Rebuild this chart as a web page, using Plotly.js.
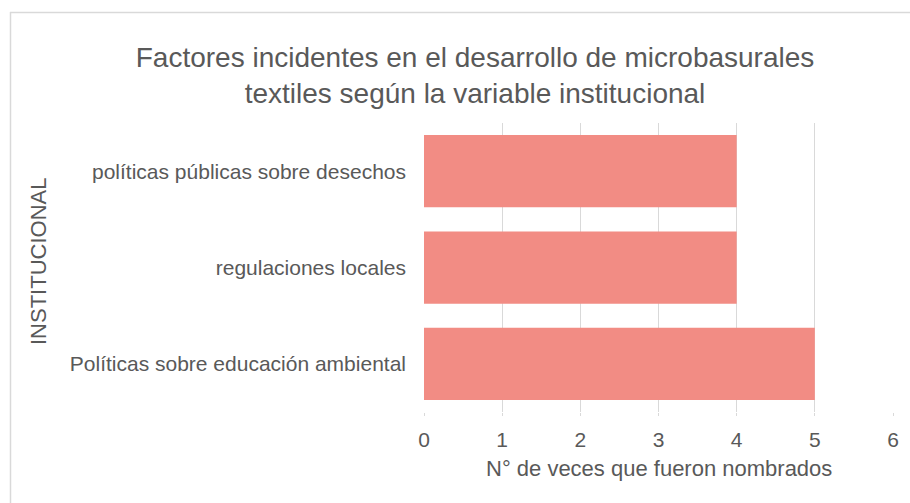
<!DOCTYPE html>
<html>
<head>
<meta charset="utf-8">
<script src="https://cdn.plot.ly/plotly-3.0.1.min.js"></script>
<style>html,body{margin:0;padding:0;background:#fff;}#chart{width:910px;height:503px;}</style>
</head>
<body>
<div id="chart"></div>
<script>
const categories = ["Políticas sobre educación ambiental", "regulaciones locales", "políticas públicas sobre desechos"];
const values = [5, 4, 4];
const xTicks = [0, 1, 2, 3, 4, 5, 6];
const titleText = "Factores incidentes en el desarrollo de microbasurales<br>textiles según la variable institucional";
const xTitle = "N° de veces que fueron nombrados";
const yTitle = "INSTITUCIONAL";

const L = 424, R = 17, T = 123, B = 91, W = 910, H = 503;
const pw = W - L - R, ph = H - T - B;
const px = v => (v - L) / pw;
const py = v => (H - B - v) / ph;

const trace = {
  type: 'bar', orientation: 'h',
  x: values, y: categories,
  marker: {color: '#F28C84'},
  hoverinfo: 'none'
};
const font = "'Liberation Sans', Arial, sans-serif";
const layout = {
  width: W, height: H,
  margin: {l: L, r: R, t: T, b: B, pad: 0},
  paper_bgcolor: '#fff', plot_bgcolor: '#fff',
  bargap: 0.25,
  showlegend: false,
  font: {family: font, color: '#595959'},
  title: {text: titleText, x: 475 / W, xref: 'container', xanchor: 'center', y: 1 - 67 / H, yref: 'container', yanchor: 'middle',
    font: {size: 28, color: '#595959', family: font}},
  xaxis: {
    range: [0, 6], tickvals: xTicks, ticktext: xTicks.map(String),
    showgrid: true, gridcolor: '#D9D9D9', gridwidth: 1, zeroline: false,
    showline: false, ticks: 'outside', ticklen: 3, tickcolor: '#D9D9D9',
    ticklabelstandoff: 6,
    tickfont: {size: 21, color: '#595959', family: font},
    fixedrange: true
  },
  yaxis: {
    type: 'category', categoryorder: 'array', categoryarray: categories,
    showgrid: false, zeroline: false, showline: false, ticks: '',
    ticklabelstandoff: 17,
    tickfont: {size: 21, color: '#595959', family: font},
    automargin: false, fixedrange: true
  },
  annotations: [{
    text: yTitle, textangle: -90, xref: 'paper', yref: 'paper',
    x: px(38), y: py(262), xanchor: 'center', yanchor: 'middle', showarrow: false,
    font: {size: 22, color: '#595959', family: font}
  }, {
    text: xTitle, xref: 'paper', yref: 'paper',
    x: 0.5, y: py(468), xanchor: 'center', yanchor: 'middle', showarrow: false,
    font: {size: 22, color: '#595959', family: font}
  }],
  shapes: [
    {type: 'line', xref: 'paper', yref: 'paper', x0: px(10), x1: px(912), y0: py(12.5), y1: py(12.5), line: {color: '#D9D9D9', width: 1.5}},
    {type: 'line', xref: 'paper', yref: 'paper', x0: px(10.5), x1: px(10.5), y0: py(12), y1: py(505), line: {color: '#D9D9D9', width: 1.5}}
  ]
};
Plotly.newPlot('chart', [trace], layout, {displayModeBar: false, staticPlot: true});
</script>
</body>
</html>
